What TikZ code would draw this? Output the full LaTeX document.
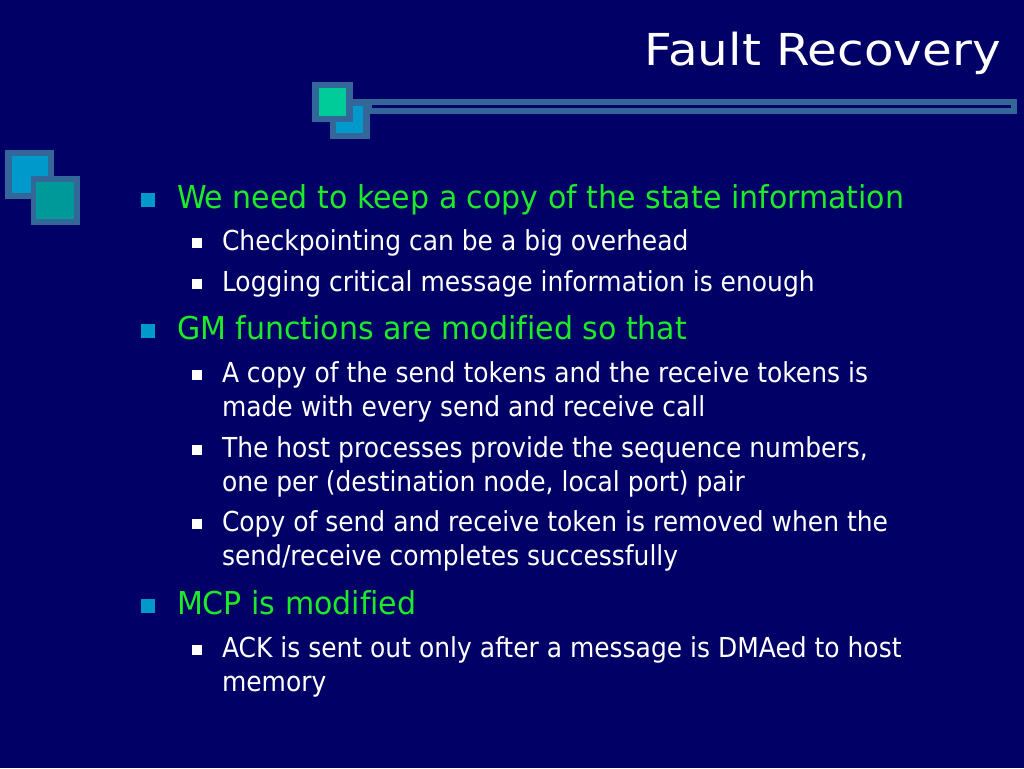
\documentclass[tikz,border=0pt]{standalone}
\usepackage{fontspec}
\setmainfont{DejaVu Sans}[Ligatures=NoCommon]
\newfontfamily\titlefont{DejaVu Sans}[FakeStretch=1.1,Ligatures=NoCommon]
\newfontfamily\onefont{DejaVu Sans}[FakeStretch=0.953,Ligatures=NoCommon]
\newfontfamily\twofont{DejaVu Sans}[FakeStretch=0.908,Ligatures=NoCommon]
\definecolor{bg}{RGB}{0,0,102}
\definecolor{frame}{RGB}{51,102,153}
\definecolor{sqgreen}{RGB}{0,204,153}
\definecolor{sqblue}{RGB}{0,153,204}
\definecolor{sqteal}{RGB}{0,153,153}
\definecolor{lgreen}{RGB}{30,235,40}
\definecolor{bcyan}{RGB}{0,153,204}
\begin{document}
\begin{tikzpicture}[x=1pt,y=-1pt,
  txt/.style={anchor=base west,inner sep=0pt,outer sep=0pt},
  lone/.style={txt,text=lgreen,font=\onefont\fontsize{31.5}{36}\selectfont},
  ltwo/.style={txt,text=white,font=\twofont\fontsize{27.5}{32}\selectfont},
  bone/.style={fill=bcyan,minimum size=14,inner sep=0pt,outer sep=0pt,anchor=center},
  btwo/.style={fill=white,minimum size=10,inner sep=0pt,outer sep=0pt,anchor=center}]
\fill[bg] (0,0) rectangle (1024,768);
\useasboundingbox (0,0) rectangle (1024,768);
% title
\node[anchor=base east,inner sep=0pt,text=white,font=\titlefont\fontsize{44}{50}\selectfont] (title) at (1001,65) {Fault Recovery};
% double rule
\fill[frame] (353,99) rectangle (1017,114);
\fill[bg] (372,105) rectangle (1011,107.6);
% top squares
\fill[frame] (330,100) rectangle (370,139);
\fill[sqblue] (336,106) rectangle (363,133);
\fill[frame] (312,82) rectangle (353,122);
\fill[sqgreen] (319,88) rectangle (346,116);
% left squares
\fill[frame] (5,150) rectangle (54,199);
\fill[sqblue] (12,156) rectangle (48,193);
\fill[frame] (31,176) rectangle (80,225);
\fill[sqteal] (36,182) rectangle (74,219);
% bullets level 1
\node[bone] (b1) at (148,199.5) {};
\node[bone] (b2) at (148,330.5) {};
\node[bone] (b3) at (148,605.5) {};
% level 1 text
\node[lone] (t1) at (177,208) {We need to keep a copy of the state information};
\node[lone] (t2) at (177,339) {GM functions are modified so that};
\node[lone] (t3) at (177,614) {MCP is modified};
% bullets level 2
\node[btwo] (s1) at (197,242.5) {};
\node[btwo] (s2) at (197,283.5) {};
\node[btwo] (s3) at (197,374.5) {};
\node[btwo] (s4) at (197,449.5) {};
\node[btwo] (s5) at (197,523.5) {};
\node[btwo] (s6) at (197,649.5) {};
% level 2 text
\node[ltwo] (u1) at (222,250) {Checkpointing can be a big overhead};
\node[ltwo] (u2) at (222,291) {Logging critical message information is enough};
\node[ltwo] (u3a) at (222,382) {A copy of the send tokens and the receive tokens is};
\node[ltwo] (u3b) at (222,416) {made with every send and receive call};
\node[ltwo] (u4a) at (222,457) {The host processes provide the sequence numbers,};
\node[ltwo] (u4b) at (222,491) {one per (destination node, local port) pair};
\node[ltwo] (u5a) at (222,531) {Copy of send and receive token is removed when the};
\node[ltwo] (u5b) at (222,565) {send/receive completes successfully};
\node[ltwo] (u6a) at (222,657) {ACK is sent out only after a message is DMAed to host};
\node[ltwo] (u6b) at (222,691) {memory};
\end{tikzpicture}
\end{document}
